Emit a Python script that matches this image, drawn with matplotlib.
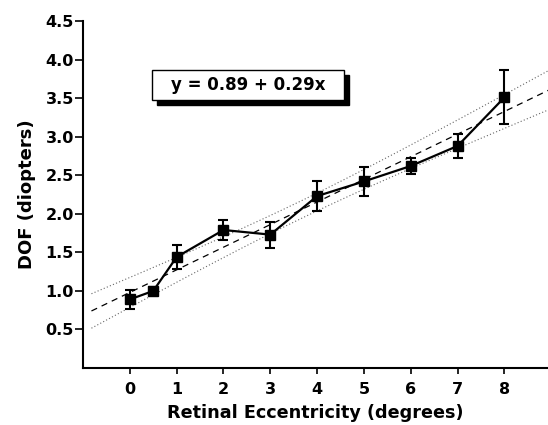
import numpy as np
import matplotlib
matplotlib.use('Agg')
import matplotlib.pyplot as plt
from matplotlib.patches import Rectangle

# eccentricity (deg), DOF (diopters) and error bars
eccentricity = [0, 0.5, 1, 2, 3, 4, 5, 6, 7, 8]
dof = [0.89, 1.00, 1.44, 1.79, 1.73, 2.23, 2.42, 2.62, 2.88, 3.51]
dof_err = [0.12, 0.05, 0.16, 0.13, 0.17, 0.19, 0.19, 0.11, 0.16, 0.35]
fit_label = 'y = 0.89 + 0.29x'

plt.rcParams['font.family'] = 'DejaVu Sans'
plt.rcParams['font.weight'] = 'bold'

fig = plt.figure(figsize=(5.48, 4.25), dpi=100)
ax = fig.add_axes([0.1515, 0.134, 0.8485, 0.8166])

# linear fit and 95% confidence band
x = np.array(eccentricity)
y = np.array(dof)
slope, intercept = np.polyfit(x, y, 1)
n = len(x)
resid = y - (intercept + slope * x)
s = np.sqrt(np.sum(resid ** 2) / (n - 2))
t95 = 2.306
xx = np.linspace(-0.82, 9, 200)
yy = intercept + slope * xx
half = t95 * s * np.sqrt(1.0 / n + (xx - x.mean()) ** 2 / np.sum((x - x.mean()) ** 2))

ax.plot(xx, yy, color='black', lw=0.9, ls=(0, (5, 4)), zorder=2)
ax.plot(xx, yy + half, color='#666666', lw=0.8, ls=(0, (1, 2)), zorder=2)
ax.plot(xx, yy - half, color='#666666', lw=0.8, ls=(0, (1, 2)), zorder=2)

ax.errorbar(eccentricity, dof, yerr=dof_err, color='black', marker='s',
            markersize=7.5, lw=1.6, elinewidth=1.5, capsize=3.5, capthick=1.5,
            zorder=3)

ax.set_xlim(-1, 8.93)
ax.set_ylim(0, 4.5)
ax.set_xticks(range(0, 9))
ax.set_yticks(np.arange(0.5, 4.51, 0.5))
ax.yaxis.set_major_formatter(matplotlib.ticker.FormatStrFormatter('%.1f'))

for side in ['top', 'right']:
    ax.spines[side].set_visible(False)
for side in ['left', 'bottom']:
    ax.spines[side].set_linewidth(1.5)

ax.tick_params(axis='y', length=5.5, width=1.2, pad=1, labelsize=11.5)
ax.tick_params(axis='x', length=4, width=1.2, pad=6, labelsize=11.5)

ax.set_xlabel('Retinal Eccentricity (degrees)', fontsize=12.7,
              fontweight='bold', labelpad=5)
ax.set_ylabel('DOF (diopters)', fontsize=13, fontweight='bold', labelpad=7)

# equation box with drop shadow
bx0, by0, bw, bh = 0.148, 0.772, 0.413, 0.087
ax.add_patch(Rectangle((bx0 + 0.012, by0 - 0.015), bw, bh, transform=ax.transAxes,
                       facecolor='black', edgecolor='black', zorder=4))
ax.add_patch(Rectangle((bx0, by0), bw, bh, transform=ax.transAxes,
                       facecolor='white', edgecolor='black', lw=1, zorder=5))
ax.text(bx0 + bw / 2, by0 + bh / 2, fit_label, transform=ax.transAxes,
        ha='center', va='center', fontsize=12, fontweight='bold', zorder=6)

fig.savefig('out.png', dpi=100)
